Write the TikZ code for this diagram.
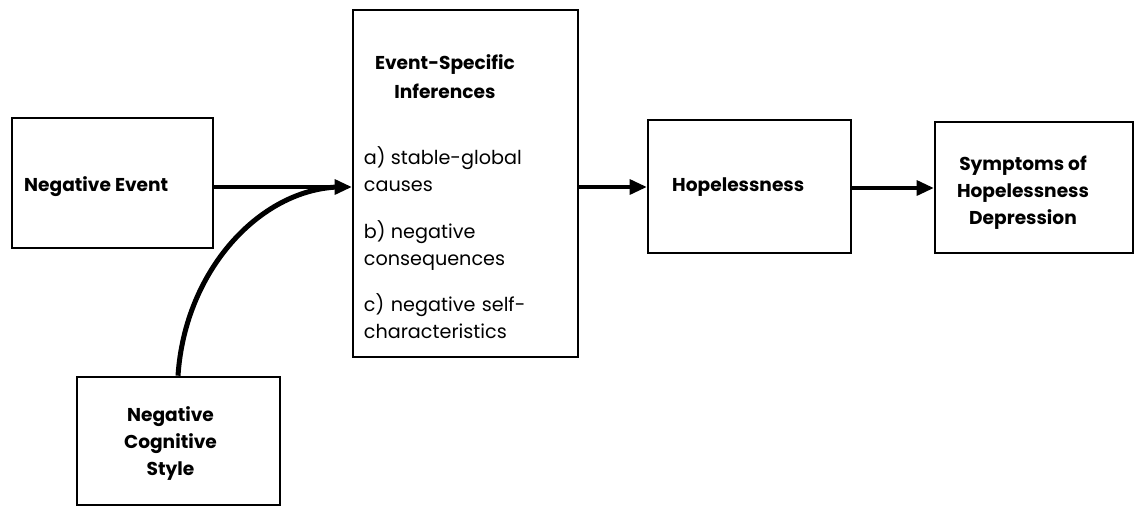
\documentclass[tikz,border=0pt]{standalone}
\usepackage{fontspec}
\setmainfont{Poppins}
\usetikzlibrary{arrows.meta}
\begin{document}
\begin{tikzpicture}[x=1pt,y=-1pt,
  box/.style={draw=black, line width=2.6pt, inner sep=0pt, fill=white},
  lbl/.style={font=\fontsize{18.6}{27}\selectfont\bfseries},
  arr/.style={line width=3.2pt, -{Triangle[length=17pt,width=15pt]}},
  curvearr/.style={line width=5pt}]
\useasboundingbox (0,0) rectangle (1136,507);
% boxes
\node[box, minimum width=201pt, minimum height=130pt] (NE) at (112.5,183) {};
\node[box, minimum width=225pt, minimum height=347pt] (ESI) at (465.5,183.5) {};
\node[box, minimum width=203pt, minimum height=133pt] (HP) at (749.5,186.5) {};
\node[box, minimum width=198pt, minimum height=131pt] (SY) at (1034,187.5) {};
\node[box, minimum width=203pt, minimum height=128pt] (NC) at (178.5,441) {};
% texts
\node[lbl, anchor=west] (NEt) at ([xshift=10pt]NE.west |- 0,187) {Negative Event};
\node[lbl, anchor=west] (HPt) at ([xshift=22pt]HP.west |- 0,187) {Hopelessness};
\node[lbl, align=center] (SYt) at ([xshift=-11pt,yshift=-5pt]SY.center) {Symptoms of\\Hopelessness\\Depression};
\node[lbl, align=center] (NCt) at ([xshift=-8pt,yshift=-3pt]NC.center) {Negative\\Cognitive\\Style};
\node[anchor=north west, text width=200pt, inner sep=0pt,
  font=\fontsize{19.2}{27}\selectfont] (ESIt) at ([xshift=12pt,yshift=-46pt]ESI.north west)
{\parbox{162pt}{\centering\bfseries\fontsize{18.6}{29}\selectfont Event-Specific\\Inferences}\par
 \vspace{47pt}
 \hangindent=27pt\hangafter=1\noindent\makebox[27pt][l]{a)}stable-global\\causes\par
 \vspace{20pt}
 \hangindent=27pt\hangafter=1\noindent\makebox[27pt][l]{b)}negative\\consequences\par
 \vspace{19pt}
 \hangindent=27pt\hangafter=1\noindent\makebox[27pt][l]{c)}negative self-\\characteristics\par};
% connectors
\coordinate (tip) at (ESI.west |- 0,187);
\draw[curvearr] (NC.north -| 178,0) .. controls (185,270) and (260,190) .. ([xshift=-14pt]tip);
\draw[arr] (NE.east |- 0,187) -- (tip);
\draw[arr] (ESI.east |- 0,187) -- (HP.west |- 0,187);
\draw[arr] (HP.east |- 0,188) -- (SY.west |- 0,188);
\end{tikzpicture}
\end{document}
